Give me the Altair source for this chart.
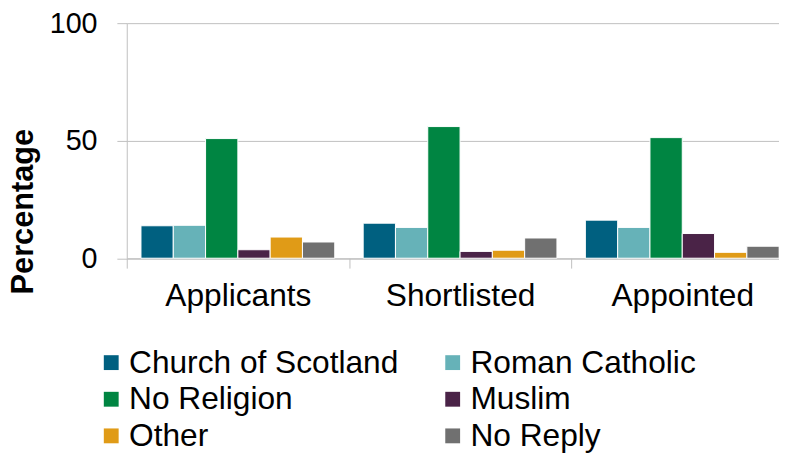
import altair as alt
import pandas as pd

groups = ["Applicants", "Shortlisted", "Appointed"]
religions = ["Church of Scotland", "Roman Catholic", "No Religion", "Muslim", "Other", "No Reply"]
applicants = [13.8, 14.0, 50.9, 3.6, 9.0, 6.9]
shortlisted = [14.9, 13.1, 56.0, 2.9, 3.4, 8.6]
appointed = [16.2, 13.1, 51.3, 10.5, 2.5, 5.1]
colors = ["#006080", "#66B2B8", "#008542", "#4A2347", "#E09B17", "#707070"]
y_ticks = [0, 50, 100]

rows = []
for g, vals in zip(groups, [applicants, shortlisted, appointed]):
    for r, v in zip(religions, vals):
        rows.append({"Group": g, "Religion": r, "Value": v})
df = pd.DataFrame(rows)

FONT = "Liberation Sans"
GRAY = "#BFBFBF"

chart = alt.Chart(df).mark_bar(stroke="white", strokeWidth=1).encode(
    x=alt.X(
        "Group:N", sort=groups,
        scale=alt.Scale(paddingInner=0, paddingOuter=0),
        axis=alt.Axis(title=None, labelAngle=0, tickBand="extent", tickSize=10,
                      labelPadding=13, labelFontSize=32, labelFont=FONT,
                      labelColor="black", domainColor=GRAY, tickColor=GRAY,
                      grid=False, labelLimit=400),
    ),
    xOffset=alt.XOffset("Religion:N", sort=religions,
                        scale=alt.Scale(paddingInner=0, paddingOuter=0.44)),
    y=alt.Y(
        "Value:Q",
        scale=alt.Scale(domain=[0, 100], nice=False),
        axis=alt.Axis(values=y_ticks, title="Percentage", titleFontSize=31,
                      titleFont=FONT, titleFontWeight="bold", titleColor="black",
                      titleX=-104, titleY=190, titleAlign="center",
                      titleBaseline="middle", titleAngle=270,
                      labelFontSize=29, labelFont=FONT, labelColor="black",
                      labelPadding=20, tickSize=10, tickColor=GRAY,
                      domainColor=GRAY, gridColor=GRAY, grid=True),
    ),
    color=alt.Color(
        "Religion:N", sort=religions,
        scale=alt.Scale(domain=religions, range=colors),
        legend=alt.Legend(title=None, orient="none", legendX=-31.7, legendY=327,
                          direction="horizontal",
                          columns=2, symbolType="square", symbolSize=225,
                          symbolStrokeWidth=0, labelFontSize=32, labelFont=FONT,
                          labelColor="black", labelLimit=600, labelOffset=2,
                          columnPadding=38, rowPadding=5, padding=0),
    ),
).properties(
    width=673.5, height=237.5,
    autosize=alt.AutoSizeParams(type="none"),
    padding={"left": 120, "top": 13, "right": -14.5, "bottom": 194},
).configure_view(stroke=None)

chart.save("out.html", embed_options={"renderer": "svg", "actions": False})
